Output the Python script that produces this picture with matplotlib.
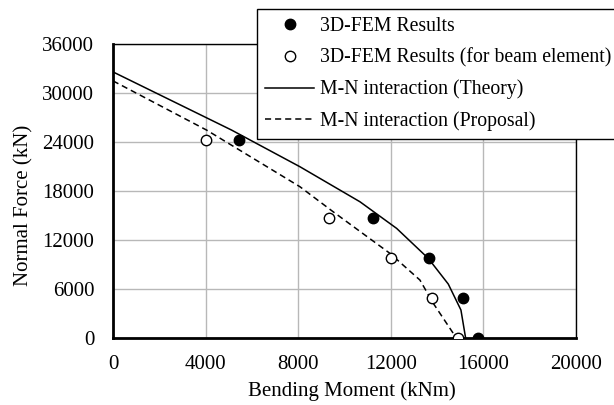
import matplotlib.pyplot as plt

plt.rcParams['font.family'] = ['Liberation Serif', 'DejaVu Serif']
plt.rcParams['font.size'] = 15

# 3D-FEM results
fem_m = [5450, 11250, 13650, 15100, 15750]
fem_n = [24300, 14700, 9750, 4900, 0]

# 3D-FEM results (for beam element)
beam_m = [4000, 9350, 12000, 13800, 14900]
beam_n = [24300, 14700, 9750, 4900, 0]

# M-N interaction (Theory)
theo_m = [0, 5126, 8078, 10670, 12254, 13620, 14485, 15032, 15234]
theo_n = [32600, 25470, 20980, 16690, 13430, 9760, 6610, 3430, 0]

# M-N interaction (Proposal)
prop_m = [0, 4046, 8078, 9510, 11965, 13261, 13837, 14700, 14816]
prop_n = [31500, 25470, 18530, 15470, 10370, 7100, 4250, 575, 0]

fig = plt.figure(figsize=(6.14, 4.05), dpi=100)
ax = fig.add_axes([0.184, 0.1654, 0.754, 0.7256])

ax.plot(fem_m, fem_n, 'o', color='black', markersize=7.5, label='3D-FEM Results', zorder=4)
ax.plot(beam_m, beam_n, 'o', markerfacecolor='white', markeredgecolor='black',
        markeredgewidth=1.0, markersize=7.5, label='3D-FEM Results (for beam element)', zorder=4)
ax.plot(theo_m, theo_n, '-', color='black', linewidth=1.1, label='M-N interaction (Theory)', zorder=3)
ax.plot(prop_m, prop_n, '--', color='black', linewidth=1.1, dashes=(4, 2.6),
        label='M-N interaction (Proposal)', zorder=3)

ax.set_xlim(0, 20000)
ax.set_ylim(0, 36000)
ax.set_xticks(range(0, 20001, 4000))
ax.set_yticks(range(0, 36001, 6000))
ax.grid(True, color='#b8b8b8', linewidth=1.0)
ax.set_axisbelow(True)
ax.tick_params(axis='x', length=0, pad=12)
ax.tick_params(axis='y', length=0, pad=13.5)

for s in ['top', 'right']:
    ax.spines[s].set_linewidth(1.0)
for s in ['left', 'bottom']:
    ax.spines[s].set_linewidth(2.0)

ax.set_xlabel('Bending Moment (kNm)', va='center')
ax.set_ylabel('Normal Force (kN)', va='center')
ax.xaxis.set_label_coords(0.516, -0.18)
ax.yaxis.set_label_coords(-0.192, 0.45)

leg = fig.legend(loc='upper left', bbox_to_anchor=(0.4186, 0.978), frameon=True,
                 fancybox=False, edgecolor='black', framealpha=1, fontsize=14.2,
                 handlelength=2.5, labelspacing=0.62, borderpad=0.4,
                 handletextpad=0.3, borderaxespad=0)
leg.get_frame().set_linewidth(1.0)
leg.set_zorder(10)

fig.savefig('out.png', dpi=100)
